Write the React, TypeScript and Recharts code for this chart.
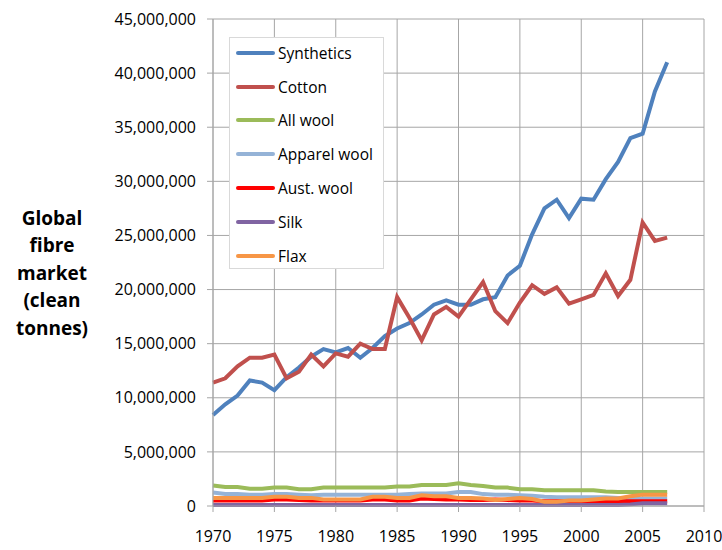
import React from "react";
import {
    LineChart,
    Line,
    XAxis,
    YAxis,
    CartesianGrid,
} from "recharts";

const years = [
    1970, 1971, 1972, 1973, 1974, 1975, 1976, 1977, 1978, 1979,
    1980, 1981, 1982, 1983, 1984, 1985, 1986, 1987, 1988, 1989,
    1990, 1991, 1992, 1993, 1994, 1995, 1996, 1997, 1998, 1999,
    2000, 2001, 2002, 2003, 2004, 2005, 2006, 2007,
];

// values in clean tonnes
const synthetics = [
    8400000, 9400000, 10200000, 11600000, 11400000, 10700000, 11900000, 12800000, 13800000, 14500000,
    14200000, 14600000, 13700000, 14600000, 15700000, 16400000, 16900000, 17700000, 18600000, 19000000,
    18600000, 18600000, 19100000, 19300000, 21300000, 22200000, 25100000, 27500000, 28300000, 26600000,
    28400000, 28300000, 30200000, 31800000, 34000000, 34400000, 38300000, 41000000,
];
const cotton = [
    11400000, 11800000, 12900000, 13700000, 13700000, 14000000, 11800000, 12400000, 14000000, 12900000,
    14100000, 13800000, 15000000, 14500000, 14500000, 19300000, 17400000, 15300000, 17700000, 18400000,
    17500000, 19100000, 20700000, 18000000, 16900000, 18800000, 20400000, 19600000, 20200000, 18700000,
    19100000, 19500000, 21500000, 19400000, 20900000, 26200000, 24500000, 24800000,
];
const allWool = [
    1900000, 1750000, 1750000, 1600000, 1600000, 1700000, 1700000, 1550000, 1550000, 1700000,
    1700000, 1700000, 1700000, 1700000, 1700000, 1800000, 1800000, 1950000, 1950000, 1950000,
    2100000, 1950000, 1850000, 1700000, 1700000, 1550000, 1550000, 1450000, 1450000, 1450000,
    1450000, 1450000, 1350000, 1300000, 1300000, 1300000, 1300000, 1300000,
];
const apparelWool = [
    1250000, 1100000, 1100000, 1050000, 1050000, 1100000, 1100000, 1050000, 1000000, 1050000,
    1050000, 1050000, 1050000, 1050000, 1050000, 1050000, 1100000, 1150000, 1150000, 1150000,
    1300000, 1300000, 1100000, 1050000, 1050000, 1000000, 950000, 850000, 800000, 800000,
    800000, 800000, 800000, 750000, 700000, 700000, 700000, 700000,
];
const austWool = [
    500000, 500000, 500000, 500000, 500000, 600000, 600000, 550000, 500000, 500000,
    500000, 500000, 500000, 600000, 600000, 500000, 500000, 700000, 650000, 600000,
    600000, 550000, 550000, 600000, 550000, 500000, 500000, 450000, 450000, 450000,
    450000, 450000, 450000, 450000, 450000, 450000, 450000, 450000,
];
const silk = [
    100000, 100000, 100000, 100000, 100000, 100000, 100000, 100000, 100000, 100000,
    100000, 100000, 100000, 100000, 100000, 100000, 100000, 100000, 100000, 100000,
    100000, 100000, 100000, 100000, 100000, 100000, 100000, 100000, 100000, 100000,
    100000, 100000, 100000, 100000, 150000, 250000, 250000, 250000,
];
const flax = [
    750000, 750000, 750000, 750000, 750000, 850000, 850000, 750000, 750000, 600000,
    600000, 600000, 600000, 850000, 850000, 750000, 750000, 1000000, 900000, 900000,
    750000, 750000, 700000, 550000, 650000, 750000, 650000, 400000, 400000, 500000,
    500000, 600000, 700000, 700000, 900000, 1050000, 1050000, 1050000,
];

const xTicks = [1970, 1975, 1980, 1985, 1990, 1995, 2000, 2005, 2010];
const yTicks = [0, 5000000, 10000000, 15000000, 20000000, 25000000, 30000000, 35000000, 40000000, 45000000];
const yLabelLines = ["Global", "fibre", "market", "(clean", "tonnes)"];

const series = [
    { key: "synthetics", name: "Synthetics", color: "#4F81BD", values: synthetics },
    { key: "cotton", name: "Cotton", color: "#C0504D", values: cotton },
    { key: "allWool", name: "All wool", color: "#9BBB59", values: allWool },
    { key: "apparelWool", name: "Apparel wool", color: "#95B3D7", values: apparelWool },
    { key: "austWool", name: "Aust. wool", color: "#FF0000", values: austWool },
    { key: "silk", name: "Silk", color: "#8064A2", values: silk },
    { key: "flax", name: "Flax", color: "#F79646", values: flax },
];

const data = years.map((year, i) => {
    const row: Record<string, number> = { year };
    series.forEach((s) => {
        row[s.key] = s.values[i];
    });
    return row;
});

const FONT = "'Open Sans', sans-serif";
const GRID = "#A6A6A6";

function YLabel() {
    return (
        <text
            x={52}
            y={218}
            textAnchor="middle"
            fontFamily={FONT}
            fontWeight="bold"
            fontSize={19}
            fill="#000"
        >
            {yLabelLines.map((line, i) => (
                <tspan key={line} x={52} y={218 + i * 27.5} dy="0.35em">
                    {line}
                </tspan>
            ))}
        </text>
    );
}

function FibreLegend() {
    return (
        <div
            style={{
                position: "absolute",
                left: 229,
                top: 37,
                width: 155,
                height: 232,
                background: "#fff",
                border: "1px solid #D9D9D9",
                boxSizing: "border-box",
                fontFamily: FONT,
                fontSize: 15.5,
                color: "#000",
            }}
        >
            <div style={{ marginTop: -2 }}>
                {series.map((s) => (
                    <div
                        key={s.key}
                        style={{ display: "flex", alignItems: "center", height: 33.8 }}
                    >
                        <div
                            style={{
                                marginLeft: 6,
                                width: 39,
                                height: 4,
                                borderRadius: 2,
                                background: s.color,
                            }}
                        />
                        <span style={{ marginLeft: 3 }}>{s.name}</span>
                    </div>
                ))}
            </div>
        </div>
    );
}

export default function App() {
    return (
        <div style={{ position: "absolute", left: 0, top: 0, width: 722, height: 550, background: "#fff" }}>
            <LineChart
                width={722}
                height={550}
                data={data}
                margin={{ top: 19, right: 18, left: 0, bottom: 0 }}
            >
                <CartesianGrid stroke={GRID} strokeWidth={1} />
                <XAxis
                    dataKey="year"
                    type="number"
                    domain={[1970, 2010]}
                    ticks={xTicks}
                    interval={0}
                    height={44}
                    tickSize={6}
                    tickMargin={19}
                    stroke={GRID}
                    tick={{ fill: "#000", fontSize: 16, fontFamily: FONT }}
                />
                <YAxis
                    type="number"
                    domain={[0, 45000000]}
                    ticks={yTicks}
                    interval={0}
                    width={213}
                    tickSize={6}
                    tickMargin={11}
                    stroke={GRID}
                    tick={{ fill: "#000", fontSize: 16, fontFamily: FONT }}
                    tickFormatter={(v: number) => v.toLocaleString("en-US")}
                    label={<YLabel />}
                />
                {series.map((s) => (
                    <Line
                        key={s.key}
                        dataKey={s.key}
                        name={s.name}
                        stroke={s.color}
                        strokeWidth={4}
                        dot={false}
                        type="linear"
                        isAnimationActive={false}
                    />
                ))}
            </LineChart>
            <FibreLegend />
        </div>
    );
}
